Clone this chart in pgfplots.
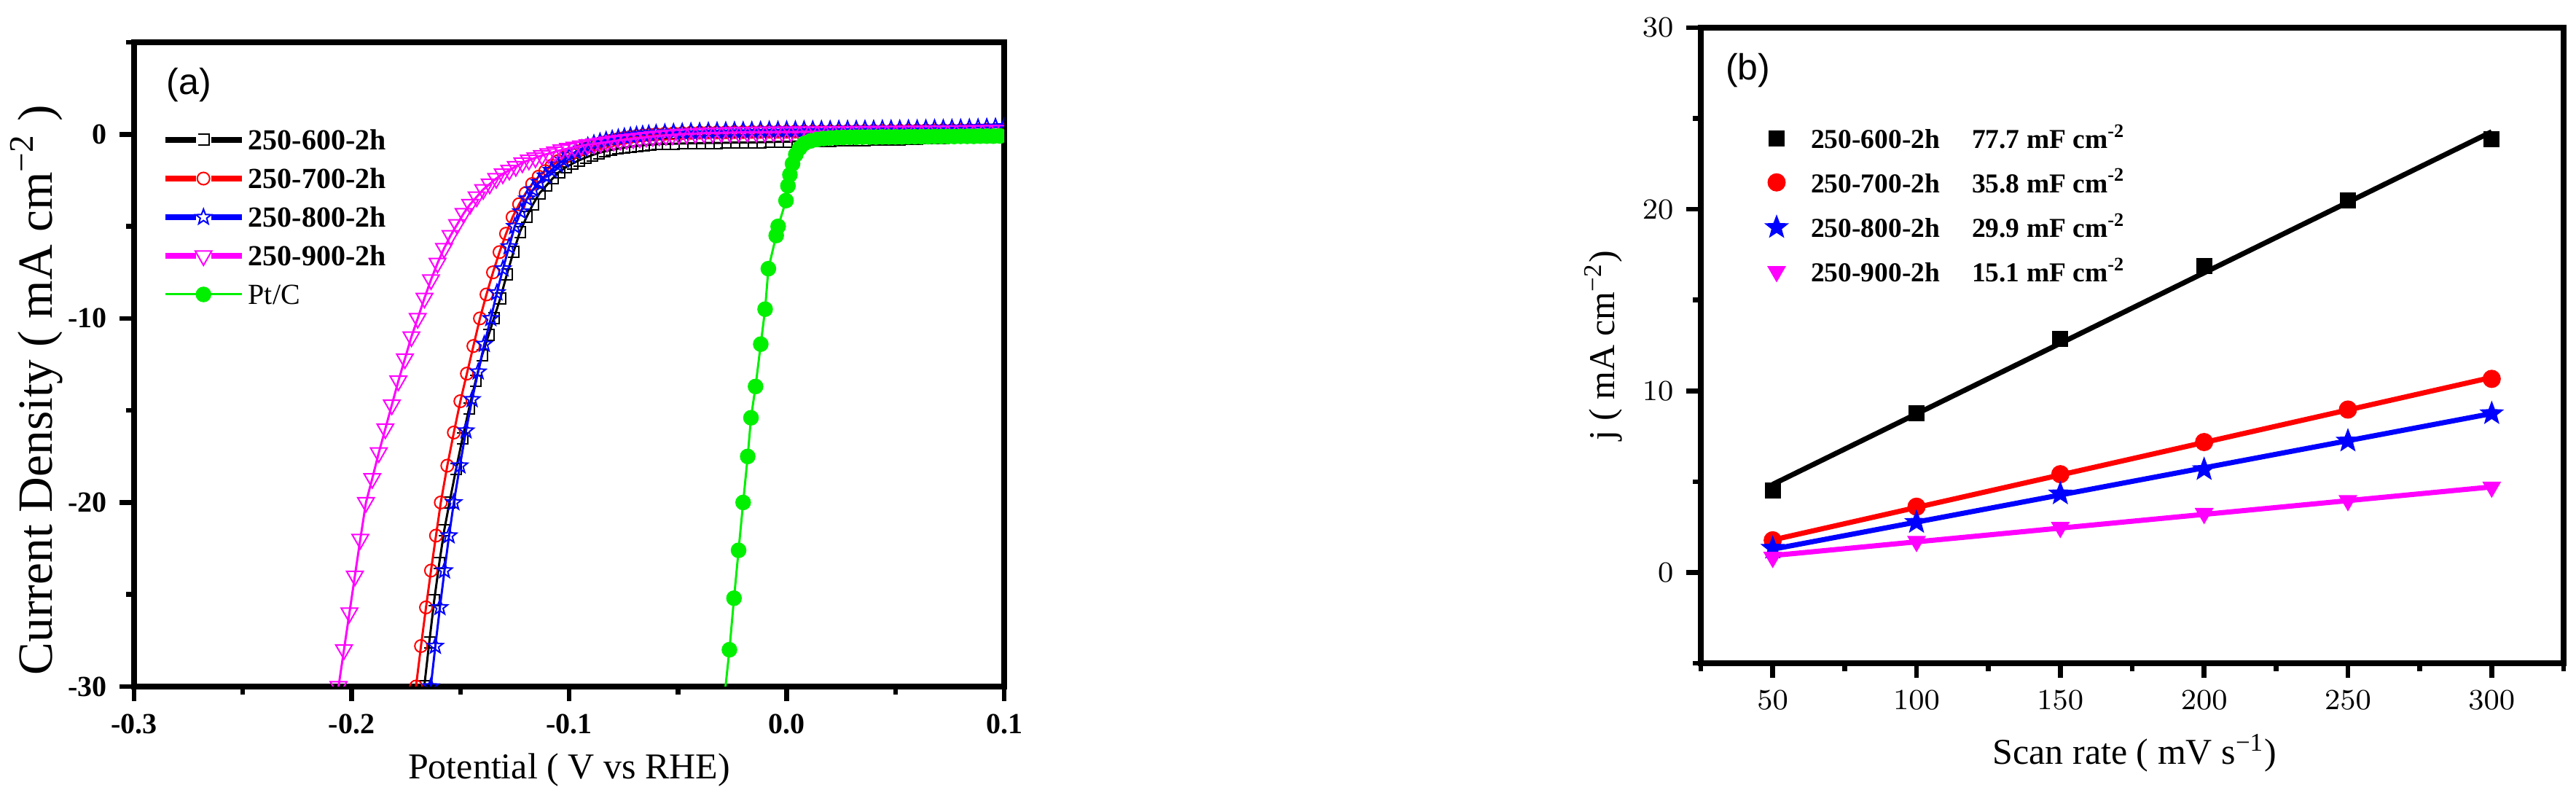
\documentclass[border=0pt]{standalone}
\usepackage{pgfplots}
\pgfplotsset{compat=1.18}
\usepackage{fontspec}
\setmainfont{Liberation Serif}
\newfontfamily\arialfont{Liberation Sans}

\pgfdeclareplotmark{pstar}{%
 \pgfpathmoveto{\pgfpointpolar{90}{\pgfplotmarksize}}%
 \pgfpathlineto{\pgfpointpolar{126}{0.42*\pgfplotmarksize}}%
 \pgfpathlineto{\pgfpointpolar{162}{\pgfplotmarksize}}%
 \pgfpathlineto{\pgfpointpolar{198}{0.42*\pgfplotmarksize}}%
 \pgfpathlineto{\pgfpointpolar{234}{\pgfplotmarksize}}%
 \pgfpathlineto{\pgfpointpolar{270}{0.42*\pgfplotmarksize}}%
 \pgfpathlineto{\pgfpointpolar{306}{\pgfplotmarksize}}%
 \pgfpathlineto{\pgfpointpolar{342}{0.42*\pgfplotmarksize}}%
 \pgfpathlineto{\pgfpointpolar{18}{\pgfplotmarksize}}%
 \pgfpathlineto{\pgfpointpolar{54}{0.42*\pgfplotmarksize}}%
 \pgfpathclose
 \pgfusepathqstroke}
\pgfdeclareplotmark{pstar*}{%
 \pgfpathmoveto{\pgfpointpolar{90}{\pgfplotmarksize}}%
 \pgfpathlineto{\pgfpointpolar{126}{0.42*\pgfplotmarksize}}%
 \pgfpathlineto{\pgfpointpolar{162}{\pgfplotmarksize}}%
 \pgfpathlineto{\pgfpointpolar{198}{0.42*\pgfplotmarksize}}%
 \pgfpathlineto{\pgfpointpolar{234}{\pgfplotmarksize}}%
 \pgfpathlineto{\pgfpointpolar{270}{0.42*\pgfplotmarksize}}%
 \pgfpathlineto{\pgfpointpolar{306}{\pgfplotmarksize}}%
 \pgfpathlineto{\pgfpointpolar{342}{0.42*\pgfplotmarksize}}%
 \pgfpathlineto{\pgfpointpolar{18}{\pgfplotmarksize}}%
 \pgfpathlineto{\pgfpointpolar{54}{0.42*\pgfplotmarksize}}%
 \pgfpathclose
 \pgfusepathqfillstroke}
\pgfdeclareplotmark{hsq}{%
 \pgfpathmoveto{\pgfqpoint{-\pgfplotmarksize}{\pgfplotmarksize}}%
 \pgfpathlineto{\pgfqpoint{\pgfplotmarksize}{\pgfplotmarksize}}%
 \pgfpathlineto{\pgfqpoint{\pgfplotmarksize}{-\pgfplotmarksize}}%
 \pgfpathlineto{\pgfqpoint{-\pgfplotmarksize}{-\pgfplotmarksize}}%
 \pgfusepathqstroke}

\definecolor{myred}{RGB}{255,0,0}
\definecolor{myblue}{RGB}{0,0,255}
\definecolor{mymag}{RGB}{255,0,255}
\definecolor{mygreen}{RGB}{0,240,0}

\pgfplotsset{
  common/.style={
    scale only axis, anchor=south west,
    axis line style={line width=1.5pt},
    tick align=outside, tick pos=left,
    major tick length=4pt, minor tick length=2.2pt,
    every tick/.style={black, line width=1.3pt},
    clip marker paths=true,
    label style={font=\fontsize{10}{12}\selectfont},
  },
  lsvleg/.style={legend image code/.code={%
      \draw[line width=1.5pt] (0pt,0pt) -- (8.4pt,0pt);
      \draw[line width=1.5pt] (12.6pt,0pt) -- (21pt,0pt);
      \draw plot coordinates {(10.5pt,0pt)};
      \path[draw=none] (0pt,0pt) -- (22.8pt,0pt);}},
  lsvlegthin/.style={legend image code/.code={%
      \draw[line width=0.6pt] (0pt,0pt) -- (21pt,0pt);
      \draw plot coordinates {(10.5pt,0pt)};
      \path[draw=none] (0pt,0pt) -- (22.8pt,0pt);}},
}

\begin{document}
\begin{tikzpicture}[x=1pt,y=1pt]
\path[use as bounding box] (0,0) rectangle (707,222);

%================ panel (a) =================
\begin{axis}[common,
  at={(36.8pt,33.6pt)}, width=238.8pt, height=176.8pt,
  xmin=-0.3, xmax=0.1, ymin=-30, ymax=5,
  xtick={-0.3,-0.2,-0.1,0,0.1}, xticklabels={-0.3,-0.2,-0.1,0.0,0.1},
  ytick={-30,-20,-10,0}, yticklabels={-30,-20,-10,0},
  minor xtick={-0.25,-0.15,-0.05,0.05}, minor ytick={-25,-15,-5,5},
  ticklabel style={font=\fontsize{8}{9.6}\selectfont\bfseries},
  xlabel={Potential ( V vs RHE)},
  ylabel={Current Density ( mA cm\textsuperscript{−2} )},
  xlabel style={at={(axis description cs:0.5,-0.13)}, anchor=center},
  ylabel style={at={(axis description cs:-0.112,0.46)}, anchor=center, font=\fontsize{13.5}{15}\selectfont},
  legend style={draw=none, fill=none, inner sep=0pt, outer sep=0pt,
    at={(axis description cs:0,1)}, anchor=north west, xshift=7.8pt, yshift=-24pt,
    font=\fontsize{8}{9.6}\selectfont, row sep=5pt,
    nodes={inner sep=0pt, text height=5.6pt, text depth=0pt}},
  legend cell align=left,
]
\addplot[black, line width=0.6pt, mark=hsq, mark size=1.5pt, mark options={solid, line width=0.4pt}, lsvleg] coordinates {
(-0.1666,-30.0) (-0.1643,-27.6) (-0.1620,-25.3) (-0.1597,-23.3) (-0.1574,-21.5)
(-0.1550,-20.0) (-0.1520,-18.2) (-0.1490,-16.5) (-0.1460,-14.9) (-0.1430,-13.4)
(-0.1400,-12.0) (-0.1370,-10.9) (-0.1346,-10.0) (-0.1316,-8.9) (-0.1286,-7.6)
(-0.1256,-6.4) (-0.1226,-5.3) (-0.1196,-4.5) (-0.1166,-3.8) (-0.1136,-3.2)
(-0.1106,-2.8) (-0.1076,-2.4) (-0.1046,-2.05) (-0.1016,-1.8) (-0.0986,-1.6)
(-0.0956,-1.42) (-0.0926,-1.27) (-0.0896,-1.14) (-0.0866,-1.02) (-0.0836,-0.93)
(-0.0806,-0.85) (-0.0776,-0.78) (-0.0746,-0.72) (-0.0716,-0.67) (-0.0686,-0.63)
(-0.0656,-0.59) (-0.0626,-0.56) (-0.0596,-0.54) (-0.0560,-0.52) (-0.0520,-0.51)
(-0.0480,-0.50) (-0.0440,-0.49) (-0.0400,-0.48) (-0.0360,-0.47) (-0.0320,-0.47)
(-0.0280,-0.46) (-0.0240,-0.45) (-0.0200,-0.45) (-0.0160,-0.44) (-0.0120,-0.43)
(-0.0080,-0.42) (-0.0040,-0.41) (0.0000,-0.40) (0.0040,-0.39) (0.0080,-0.38)
(0.0120,-0.37) (0.0160,-0.36) (0.0200,-0.35) (0.0240,-0.34) (0.0280,-0.33)
(0.0320,-0.32) (0.0360,-0.31) (0.0400,-0.30) (0.0440,-0.29) (0.0480,-0.28)
(0.0520,-0.27) (0.0560,-0.25) (0.0600,-0.24) (0.0640,-0.22) (0.0680,-0.21)
(0.0720,-0.19) (0.0760,-0.17) (0.0800,-0.15) (0.0840,-0.13) (0.0880,-0.11)
(0.0920,-0.08) (0.0960,-0.05) (0.1000,-0.02)
};
\addlegendentry{\textbf{250-600-2h}}
\addplot[myred, line width=0.6pt, mark=o, mark size=1.7pt, mark options={solid, line width=0.4pt}, lsvleg] coordinates {
(-0.1704,-30.0) (-0.1681,-27.8) (-0.1658,-25.7) (-0.1635,-23.7) (-0.1612,-21.8)
(-0.1590,-20.0) (-0.1560,-18.0) (-0.1530,-16.2) (-0.1500,-14.5) (-0.1470,-13.0)
(-0.1440,-11.5) (-0.1410,-10.0) (-0.1380,-8.7) (-0.1350,-7.5) (-0.1320,-6.4)
(-0.1290,-5.4) (-0.1260,-4.5) (-0.1230,-3.8) (-0.1200,-3.2) (-0.1170,-2.7)
(-0.1140,-2.3) (-0.1110,-2.0) (-0.1080,-1.7) (-0.1050,-1.45) (-0.1020,-1.25)
(-0.0990,-1.07) (-0.0960,-0.92) (-0.0930,-0.78) (-0.0900,-0.66) (-0.0870,-0.55)
(-0.0840,-0.45) (-0.0810,-0.36) (-0.0780,-0.28) (-0.0750,-0.21) (-0.0720,-0.15)
(-0.0690,-0.10) (-0.0660,-0.06) (-0.0630,-0.03) (-0.0600,0.00) (-0.0560,0.03)
(-0.0520,0.05) (-0.0480,0.06) (-0.0440,0.08) (-0.0400,0.09) (-0.0360,0.10)
(-0.0320,0.10) (-0.0280,0.11) (-0.0240,0.12) (-0.0200,0.12) (-0.0160,0.13)
(-0.0120,0.13) (-0.0080,0.14) (-0.0040,0.14) (0.0000,0.14) (0.0040,0.15)
(0.0080,0.15) (0.0120,0.15) (0.0160,0.16) (0.0200,0.16) (0.0240,0.16)
(0.0280,0.17) (0.0320,0.17) (0.0360,0.17) (0.0400,0.18) (0.0440,0.18)
(0.0480,0.19) (0.0520,0.19) (0.0560,0.20) (0.0600,0.20) (0.0640,0.21)
(0.0680,0.21) (0.0720,0.22) (0.0760,0.22) (0.0800,0.22) (0.0840,0.23)
(0.0880,0.23) (0.0920,0.24) (0.0960,0.24) (0.1000,0.25)
};
\addlegendentry{\textbf{250-700-2h}}
\addplot[myblue, line width=0.6pt, mark=pstar, mark size=2.2pt, mark options={solid, line width=0.4pt}, lsvleg] coordinates {
(-0.1636,-30.0) (-0.1615,-27.8) (-0.1594,-25.7) (-0.1573,-23.7) (-0.1552,-21.8)
(-0.1530,-20.0) (-0.1502,-18.0) (-0.1474,-16.1) (-0.1446,-14.4) (-0.1418,-12.9)
(-0.1390,-11.4) (-0.1360,-10.0) (-0.1332,-8.6) (-0.1304,-7.3) (-0.1276,-6.1)
(-0.1250,-5.0) (-0.1222,-4.2) (-0.1194,-3.5) (-0.1166,-3.0) (-0.1138,-2.6)
(-0.1110,-2.25) (-0.1082,-1.95) (-0.1054,-1.65) (-0.1026,-1.40) (-0.0998,-1.15)
(-0.0970,-0.95) (-0.0942,-0.78) (-0.0914,-0.63) (-0.0886,-0.50) (-0.0858,-0.40)
(-0.0830,-0.32) (-0.0802,-0.25) (-0.0774,-0.19) (-0.0746,-0.13) (-0.0718,-0.08)
(-0.0690,-0.04) (-0.0662,0.00) (-0.0634,0.03) (-0.0600,0.06) (-0.0560,0.09)
(-0.0520,0.11) (-0.0480,0.13) (-0.0440,0.15) (-0.0400,0.16) (-0.0360,0.18)
(-0.0320,0.19) (-0.0280,0.20) (-0.0240,0.21) (-0.0200,0.21) (-0.0160,0.22)
(-0.0120,0.23) (-0.0080,0.24) (-0.0040,0.24) (0.0000,0.25) (0.0040,0.25)
(0.0080,0.26) (0.0120,0.26) (0.0160,0.27) (0.0200,0.27) (0.0240,0.28)
(0.0280,0.28) (0.0320,0.28) (0.0360,0.29) (0.0400,0.29) (0.0440,0.30)
(0.0480,0.30) (0.0520,0.30) (0.0560,0.31) (0.0600,0.31) (0.0640,0.32)
(0.0680,0.33) (0.0720,0.33) (0.0760,0.34) (0.0800,0.35) (0.0840,0.36)
(0.0880,0.37) (0.0920,0.39) (0.0960,0.40) (0.1000,0.42)
};
\addlegendentry{\textbf{250-800-2h}}
\addplot[mymag, line width=0.6pt, mark=triangle, mark size=2.6pt, mark options={solid, line width=0.4pt, rotate=180}, lsvleg] coordinates {
(-0.2060,-30.0) (-0.2035,-28.0) (-0.2010,-26.0) (-0.1985,-24.0) (-0.1960,-22.0)
(-0.1934,-20.0) (-0.1905,-18.7) (-0.1875,-17.3) (-0.1845,-16.0) (-0.1815,-14.7)
(-0.1785,-13.4) (-0.1755,-12.2) (-0.1725,-11.0) (-0.1696,-10.0) (-0.1665,-8.9)
(-0.1635,-7.9) (-0.1605,-7.0) (-0.1575,-6.2) (-0.1545,-5.5) (-0.1515,-4.9)
(-0.1485,-4.3) (-0.1455,-3.8) (-0.1425,-3.4) (-0.1395,-3.0) (-0.1365,-2.7)
(-0.1335,-2.4) (-0.1305,-2.15) (-0.1275,-1.95) (-0.1245,-1.75) (-0.1215,-1.55)
(-0.1185,-1.40) (-0.1155,-1.28) (-0.1125,-1.15) (-0.1095,-1.05) (-0.1065,-0.95)
(-0.1035,-0.85) (-0.1005,-0.77) (-0.0975,-0.70) (-0.0945,-0.63) (-0.0915,-0.57)
(-0.0885,-0.52) (-0.0855,-0.47) (-0.0825,-0.42) (-0.0795,-0.37) (-0.0765,-0.32)
(-0.0735,-0.28) (-0.0705,-0.24) (-0.0675,-0.20) (-0.0645,-0.16) (-0.0615,-0.12)
(-0.0585,-0.09) (-0.0555,-0.06) (-0.0525,-0.03) (-0.0495,0.00) (-0.0460,0.02)
(-0.0420,0.04) (-0.0380,0.06) (-0.0340,0.07) (-0.0300,0.08) (-0.0260,0.09)
(-0.0220,0.10) (-0.0180,0.10) (-0.0140,0.11) (-0.0100,0.11) (-0.0060,0.12)
(-0.0020,0.12) (0.0020,0.12) (0.0060,0.13) (0.0100,0.13) (0.0140,0.13)
(0.0180,0.14) (0.0220,0.14) (0.0260,0.14) (0.0300,0.15) (0.0340,0.15)
(0.0380,0.15) (0.0420,0.16) (0.0460,0.16) (0.0500,0.16) (0.0540,0.17)
(0.0580,0.17) (0.0620,0.17) (0.0660,0.18) (0.0700,0.18) (0.0740,0.18)
(0.0780,0.19) (0.0820,0.19) (0.0860,0.20) (0.0900,0.20) (0.0940,0.21)
(0.0980,0.21)
};
\addlegendentry{\textbf{250-900-2h}}
\addplot[mygreen, line width=0.6pt, mark=*, mark size=2pt, mark options={solid, line width=0.3pt}, lsvlegthin] coordinates {
(-0.0290,-31.0) (-0.0263,-28.0) (-0.0242,-25.2) (-0.0221,-22.6) (-0.0200,-20.0)
(-0.0179,-17.5) (-0.0164,-15.4) (-0.0143,-13.7) (-0.0119,-11.4) (-0.0099,-9.5)
(-0.0084,-7.3) (-0.0048,-5.5) (-0.0039,-5.0) (-0.0003,-3.6) (0.0006,-2.8)
(0.0015,-2.2) (0.0027,-1.6) (0.0042,-1.1) (0.0060,-0.75) (0.0081,-0.50)
(0.0110,-0.36) (0.0140,-0.28) (0.0170,-0.23) (0.0200,-0.20) (0.0230,-0.18)
(0.0260,-0.17) (0.0290,-0.16) (0.0320,-0.16) (0.0350,-0.15) (0.0380,-0.15)
(0.0410,-0.15) (0.0440,-0.14) (0.0470,-0.14) (0.0500,-0.14) (0.0530,-0.14)
(0.0560,-0.13) (0.0590,-0.13) (0.0620,-0.13) (0.0650,-0.13) (0.0680,-0.12)
(0.0710,-0.12) (0.0740,-0.12) (0.0770,-0.12) (0.0800,-0.11) (0.0830,-0.11)
(0.0860,-0.11) (0.0890,-0.10) (0.0920,-0.10) (0.0950,-0.10) (0.0980,-0.09)
};
\addlegendentry{Pt/C}
\node[anchor=west, inner sep=0pt, font=\arialfont\fontsize{10}{12}\selectfont] at ([xshift=8.8pt,yshift=-11.8pt]rel axis cs:0,1) {(a)};
\end{axis}

%================ panel (b) =================
\begin{axis}[common,
  at={(466.8pt,40pt)}, width=236.8pt, height=174.4pt,
  xmin=25, xmax=325, ymin=-5, ymax=30,
  xtick={50,100,150,200,250,300},
  ytick={0,10,20,30},
  minor xtick={25,75,125,175,225,275,325}, minor ytick={-5,5,15,25},
  ticklabel style={font=\fontsize{8}{9.6}\selectfont},
  xlabel={Scan rate ( mV s\textsuperscript{−1})},
  ylabel={j ( mA cm\textsuperscript{−2})},
  xlabel style={at={(axis description cs:0.503,-0.141)}, anchor=center},
  ylabel style={at={(axis description cs:-0.113,0.5)}, anchor=center},
  legend style={draw=none, fill=none, inner sep=0pt, outer sep=0pt,
    at={(axis description cs:0,1)}, anchor=north west, xshift=16.8pt, yshift=-27.6pt,
    font=\fontsize{7.5}{9}\selectfont\bfseries, row sep=6.6pt,
    nodes={inner sep=0pt, text height=5.5pt, text depth=0pt}},
  legend cell align=left,
  legend image code/.code={%
    \draw plot coordinates {(4pt,0pt)};
    \path[draw=none] (0pt,0pt) -- (13.4pt,0pt);},
]
\addplot[black, line width=1.4pt, forget plot] coordinates {(50,4.85) (300,24.27)};
\addplot[myred, line width=1.4pt, forget plot] coordinates {(50,1.79) (300,10.74)};
\addplot[myblue, line width=1.4pt, forget plot] coordinates {(50,1.28) (300,8.75)};
\addplot[mymag, line width=1.4pt, forget plot] coordinates {(50,0.93) (300,4.71)};
\addplot[only marks, black, mark=square*, mark size=2pt] coordinates {
(50,4.53) (100,8.75) (150,12.88) (200,16.87) (250,20.50) (300,23.85)};
\addlegendentry{\makebox[44.2pt][l]{250-600-2h}77.7 mF cm\textsuperscript{-2}}
\addplot[only marks, myred, mark=*, mark size=2.3pt] coordinates {
(50,1.77) (100,3.62) (150,5.41) (200,7.18) (250,8.97) (300,10.66)};
\addlegendentry{\makebox[44.2pt][l]{250-700-2h}35.8 mF cm\textsuperscript{-2}}
\addplot[only marks, myblue, mark=pstar*, mark size=3pt] coordinates {
(50,1.34) (100,2.76) (150,4.33) (200,5.67) (250,7.24) (300,8.75)};
\addlegendentry{\makebox[44.2pt][l]{250-800-2h}29.9 mF cm\textsuperscript{-2}}
\addplot[only marks, mymag, mark=triangle*, mark size=2.6pt, mark options={rotate=180}] coordinates {
(50,0.83) (100,1.71) (150,2.48) (200,3.25) (250,3.96) (300,4.70)};
\addlegendentry{\makebox[44.2pt][l]{250-900-2h}15.1 mF cm\textsuperscript{-2}}
\node[anchor=west, inner sep=0pt, font=\arialfont\fontsize{10}{12}\selectfont] at ([xshift=6.6pt,yshift=-11.8pt]rel axis cs:0,1) {(b)};
\end{axis}
\end{tikzpicture}
\end{document}
